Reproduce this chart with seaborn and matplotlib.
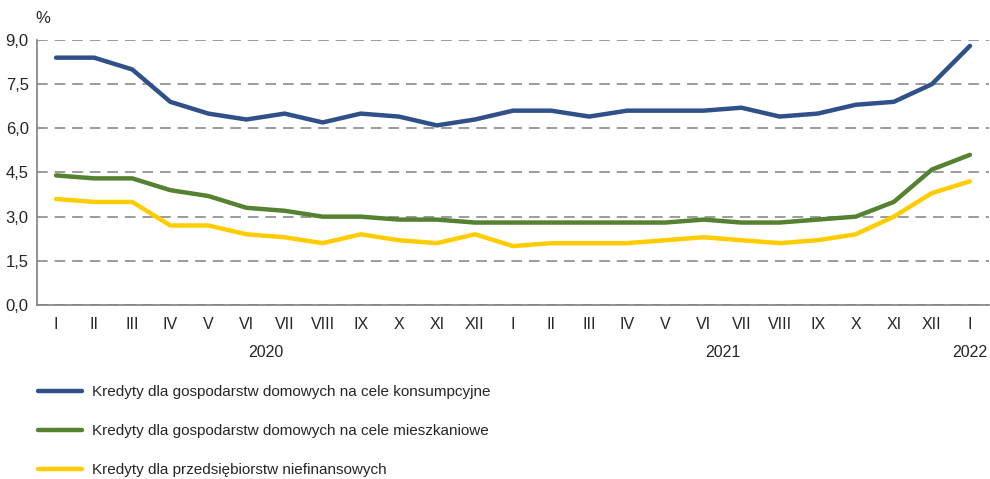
import matplotlib
matplotlib.use("Agg")
import matplotlib.pyplot as plt
import numpy as np
import pandas as pd
import seaborn as sns

months = ["I", "II", "III", "IV", "V", "VI", "VII", "VIII", "IX", "X", "XI", "XII",
          "I", "II", "III", "IV", "V", "VI", "VII", "VIII", "IX", "X", "XI", "XII", "I"]
years = ["2020", "2021", "2022"]
year_pos = [5.5, 17.5, 24]

konsumpcyjne = [8.4, 8.4, 8.0, 6.9, 6.5, 6.3, 6.5, 6.2, 6.5, 6.4, 6.1, 6.3,
                6.6, 6.6, 6.4, 6.6, 6.6, 6.6, 6.7, 6.4, 6.5, 6.8, 6.9, 7.5, 8.8]
mieszkaniowe = [4.4, 4.3, 4.3, 3.9, 3.7, 3.3, 3.2, 3.0, 3.0, 2.9, 2.9, 2.8,
                2.8, 2.8, 2.8, 2.8, 2.8, 2.9, 2.8, 2.8, 2.9, 3.0, 3.5, 4.6, 5.1]
przedsiebiorstwa = [3.6, 3.5, 3.5, 2.7, 2.7, 2.4, 2.3, 2.1, 2.4, 2.2, 2.1, 2.4,
                    2.0, 2.1, 2.1, 2.1, 2.2, 2.3, 2.2, 2.1, 2.2, 2.4, 3.0, 3.8, 4.2]

labels = ["Kredyty dla gospodarstw domowych na cele konsumpcyjne",
          "Kredyty dla gospodarstw domowych na cele mieszkaniowe",
          "Kredyty dla przedsiębiorstw niefinansowych"]
colors = ["#2f5089", "#558231", "#ffcc00"]

yticks = [0.0, 1.5, 3.0, 4.5, 6.0, 7.5, 9.0]

sns.set_style("white")
plt.rcParams["font.family"] = ["Liberation Sans", "DejaVu Sans"]

fig = plt.figure(figsize=(9.9, 4.79), dpi=100)
ax = fig.add_axes([0.0374, 0.3633, 0.9616, 0.5532])

x = np.arange(len(months))
for vals, lab, col in zip([konsumpcyjne, mieszkaniowe, przedsiebiorstwa], labels, colors):
    df = pd.DataFrame({"x": x, "y": vals})
    sns.lineplot(data=df, x="x", y="y", ax=ax, color=col, lw=3.2, label=lab,
                 solid_capstyle="round")

ax.set_xlim(-0.5, len(months) - 0.5)
ax.set_ylim(0, 9)
ax.set_yticks(yticks)
ax.set_yticklabels([f"{v:.1f}".replace(".", ",") for v in yticks], fontsize=12)
ax.yaxis.grid(True, color="#808080", linestyle=(0, (7, 4.5)), lw=1.1)
ax.set_axisbelow(True)
ax.set_xlabel("")
ax.set_ylabel("")

# category boundary ticks on the x axis, labels centered in categories
ax.set_xticks(np.arange(len(months) - 1) + 0.5)
ax.set_xticklabels([])
ax.set_xticks(x, minor=True)
ax.set_xticklabels(months, minor=True, fontsize=11.5)
ax.tick_params(axis="x", which="major", direction="in", length=7, color="#808080", width=1)
ax.tick_params(axis="x", which="minor", length=0, pad=9)
ax.tick_params(axis="y", length=0, pad=6)

for s in ["top", "right"]:
    ax.spines[s].set_visible(False)
for s in ["left", "bottom"]:
    ax.spines[s].set_color("#808080")
    ax.spines[s].set_linewidth(1.2)

for yr, pos in zip(years, year_pos):
    ax.text(pos, -1.62, yr, ha="center", va="center", fontsize=11.5,
            transform=ax.transData, clip_on=False)

fig.text(0.043, 0.962, "%", ha="center", va="center", fontsize=12)

handles, labs = ax.get_legend_handles_labels()
ax.get_legend().remove()
fig.legend(handles, labs, loc="upper left", bbox_to_anchor=(0.032, 0.209),
           frameon=False, fontsize=11, handlelength=2.9, labelspacing=1.65,
           handletextpad=0.65, borderaxespad=0)

fig.savefig("out.png", dpi=100)
